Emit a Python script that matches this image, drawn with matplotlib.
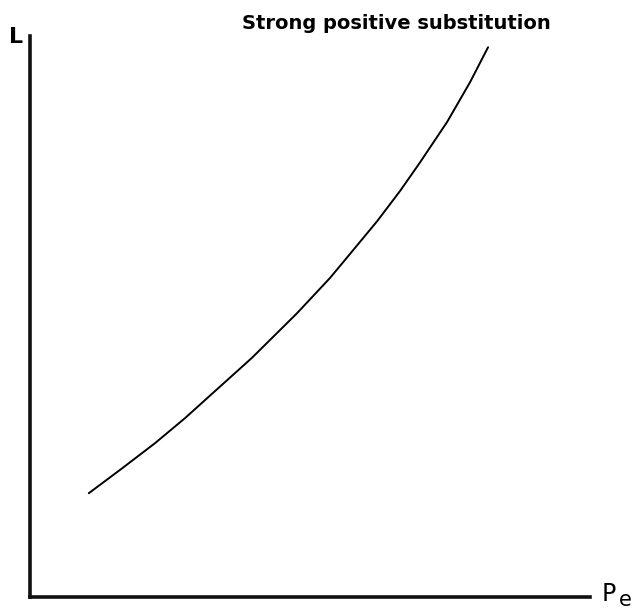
import matplotlib
matplotlib.use("Agg")
import matplotlib.pyplot as plt

# curve (axis units 0..10 on both axes)
pe_vals = [1.05, 1.64, 2.23, 2.77, 3.27, 3.96, 4.77, 5.36, 5.71, 6.20,
           6.61, 6.96, 7.45, 7.86, 8.18]
l_vals = [1.85, 2.29, 2.74, 3.19, 3.64, 4.26, 5.06, 5.69, 6.11, 6.70,
          7.24, 7.74, 8.47, 9.18, 9.80]

title_txt = "Strong positive substitution"
ylab = "L"
xlab_main = "P"
xlab_sub = "e"

W, H = 635, 612
fig = plt.figure(figsize=(W / 100, H / 100), dpi=100)
ax = fig.add_axes([30 / W, 1 - 597 / H, 560 / W, 561 / H])

ax.plot(pe_vals, l_vals, color="black", lw=1.4,
        solid_capstyle="round", solid_joinstyle="round")

ax.set_xlim(0, 10)
ax.set_ylim(0, 10)
ax.set_xticks([])
ax.set_yticks([])
for s in ["top", "right"]:
    ax.spines[s].set_visible(False)
for s in ["left", "bottom"]:
    ax.spines[s].set_linewidth(2.6)
    ax.spines[s].set_color("#111111")

fig.text(396 / W, 1 - 29 / H, title_txt, ha="center", va="baseline",
         fontsize=14, fontweight="bold")
fig.text(9 / W, 1 - 43 / H, ylab, ha="left", va="baseline", fontsize=16,
         fontweight="bold")
fig.text(602 / W, 1 - 601 / H, xlab_main, ha="left", va="baseline", fontsize=17)
fig.text(619 / W, 1 - 606 / H, xlab_sub, ha="left", va="baseline", fontsize=15)

fig.savefig("out.png", dpi=100)
